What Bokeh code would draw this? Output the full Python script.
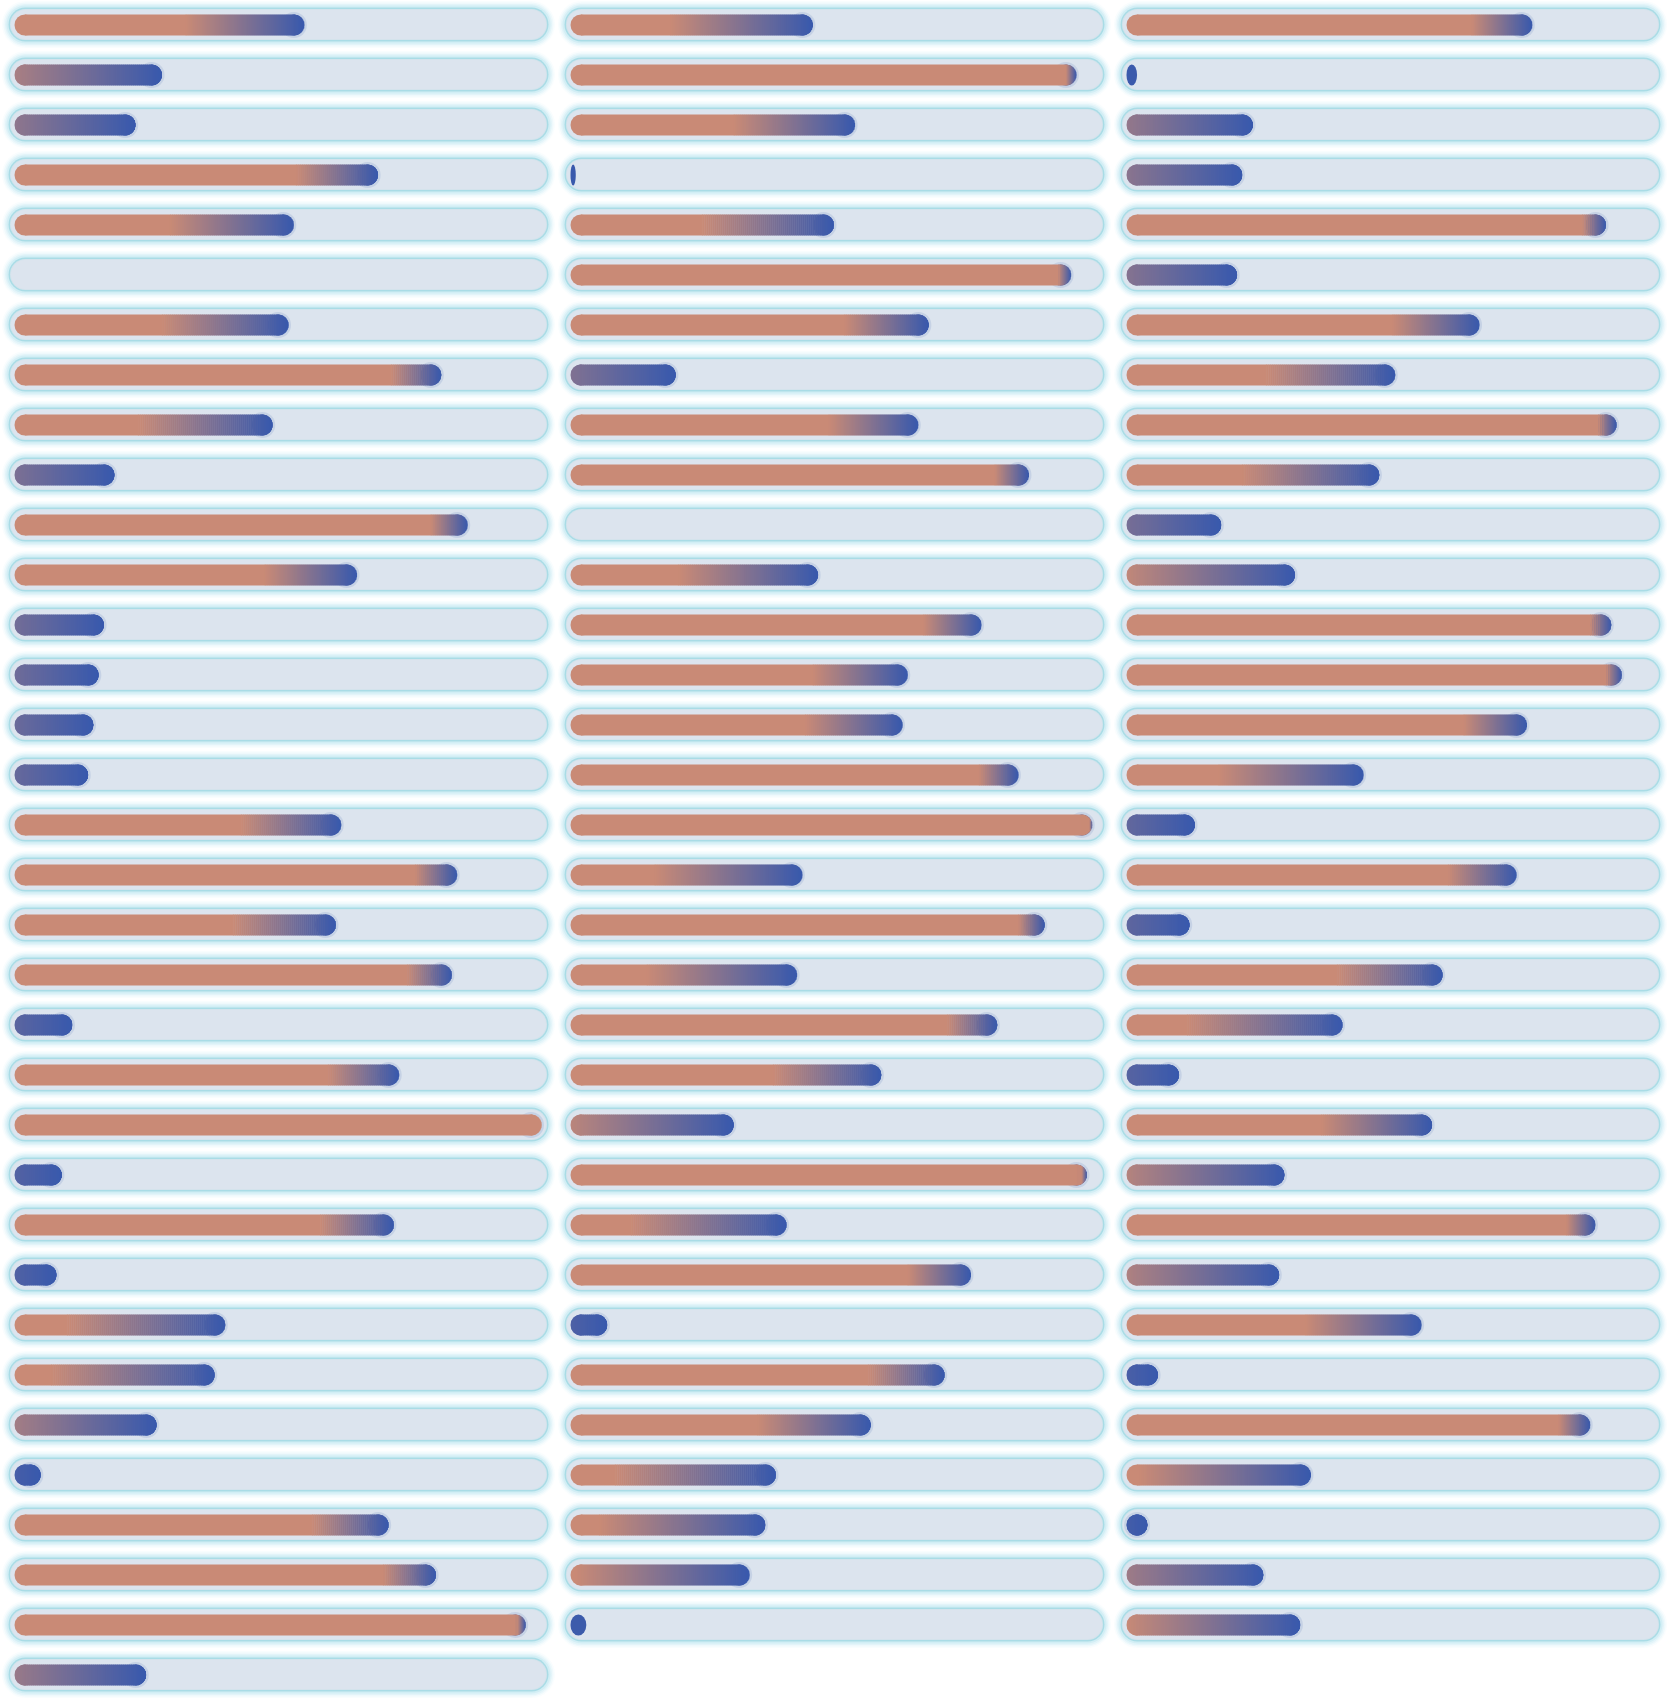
import math
import numpy as np
from bokeh.plotting import figure
from bokeh.models import Range1d, ColumnDataSource
from bokeh.embed import file_html
from bokeh.resources import INLINE

# progress values (percent), one list per grid column, top to bottom
col_a = [55, 28, 23, 69, 53, 0, 52, 81, 49, 19, 86, 65, 17, 16, 15, 14, 62, 84,
         61, 83, 11, 73, 100, 9, 72, 8, 40, 38, 27, 5, 71, 80, 97, 25]
col_b = [46, 96, 54, 1, 50, 95, 68, 20, 66, 87, 0, 47, 78, 64, 63, 85, 99, 44,
         90, 43, 81, 59, 31, 98, 41, 76, 7, 71, 57, 39, 37, 34, 3]
col_c = [77, 2, 24, 22, 91, 21, 67, 51, 93, 48, 18, 32, 92, 94, 76, 45, 13, 74,
         12, 60, 41, 10, 58, 30, 89, 29, 56, 6, 88, 35, 4, 26, 33]

SALMON = np.array([201, 138, 118])
BLUE = np.array([56, 89, 173])
TRACK_FILL = "#dce4ee"
TRACK_BORDER = "#a9dce6"
GLOW = "#93d8e8"

W, H = 1668, 1700
COL_W, ROW_H = 556, 50
TRACK_L, TRACK_R, TRACK_YC, TRACK_H = 8, 548, 24, 34
FILL_X0, FULL, FILL_YC, R = 14, 527, 24.5, 10.5


def mix(t):
    c = (1 - t) * SALMON + t * BLUE
    return "#%02x%02x%02x" % tuple(int(round(x)) for x in c)


p = figure(width=W, height=H, x_range=Range1d(0, W), y_range=Range1d(H, 0),
           output_backend="svg", toolbar_location=None, min_border=0,
           x_axis_type=None, y_axis_type=None)
p.outline_line_color = None
p.background_fill_color = "white"
p.border_fill_color = "white"

# tracks
tx0, tx1, ty = [], [], []
for ci, vals in enumerate([col_a, col_b, col_c]):
    for ri, _ in enumerate(vals):
        hr = TRACK_H / 2
        tx0.append(ci * COL_W + TRACK_L + hr)
        tx1.append(ci * COL_W + TRACK_R - hr)
        ty.append(ri * ROW_H + TRACK_YC)
tsrc = ColumnDataSource(dict(x0=tx0, x1=tx1, y=ty))
for lw, a in [(47, 0.06), (44, 0.09), (41, 0.13), (38, 0.2)]:
    p.segment("x0", "y", "x1", "y", source=tsrc, line_width=lw, line_color=GLOW,
              line_alpha=a, line_cap="round")
p.segment("x0", "y", "x1", "y", source=tsrc, line_width=TRACK_H, line_color=TRACK_BORDER,
          line_cap="round")
p.segment("x0", "y", "x1", "y", source=tsrc, line_width=TRACK_H - 3, line_color="#d4e3ec",
          line_cap="round")
p.segment("x0", "y", "x1", "y", source=tsrc, line_width=TRACK_H - 5, line_color=TRACK_FILL,
          line_cap="round")

# fills
circ = dict(x=[], y=[], c=[])
halo = dict(x=[], y=[])
ell = dict(x=[], y=[], w=[], c=[])
qd = dict(l=[], r=[], t=[], b=[], c=[])

for ci, vals in enumerate([col_a, col_b, col_c]):
    for ri, pct in enumerate(vals):
        v = pct / 100.0
        wf = v * FULL
        if wf <= 0:
            continue
        x0 = ci * COL_W + FILL_X0
        yc = ri * ROW_H + FILL_YC
        xe = x0 + wf
        s = 1.5 * v - 0.5
        g = 0.5 * (1 - v)

        def tcol(x):
            if g <= 0:
                return 0.0
            u = (x - x0) / FULL
            return min(max((u - s) / g, 0.0), 1.0)

        if wf < 2 * R:
            ell["x"].append(x0 + wf / 2); ell["y"].append(yc)
            ell["w"].append(wf); ell["c"].append(mix(tcol(x0 + wf / 2)))
            continue
        halo["x"].append(xe - R); halo["y"].append(yc)
        circ["x"] += [x0 + R, xe - R]
        circ["y"] += [yc, yc]
        circ["c"] += [mix(tcol(x0)), mix(tcol(xe))]
        xs = x0 + s * FULL
        gstart = max(min(xs, xe - R), x0)
        if gstart > x0 + R:
            qd["l"].append(x0 + R); qd["r"].append(gstart + 0.6)
            qd["t"].append(yc - R); qd["b"].append(yc + R)
            qd["c"].append(mix(0.0))
        x = gstart
        while x < xe - 1e-6:
            in_cap = x < x0 + R or x + 2 > xe - R
            step = 1.0 if in_cap else 2.0
            xr = min(x + step, xe)
            dx = 0.0
            if x < x0 + R:
                dx = max(dx, x0 + R - x)
            if xr > xe - R:
                dx = max(dx, xr - (xe - R))
            h = math.sqrt(max(R * R - dx * dx, 0.0))
            if h > 0.2:
                qd["l"].append(x)
                qd["r"].append(min(xr + 0.5, xe))
                qd["t"].append(yc - h); qd["b"].append(yc + h)
                qd["c"].append(mix(tcol((x + xr) / 2)))
            x = xr

p.circle(x="x", y="y", radius=R + 2.5, source=ColumnDataSource(halo),
         fill_color=mix(1.0), fill_alpha=0.13, line_color=None)
p.circle(x="x", y="y", radius=R, source=ColumnDataSource(circ),
         fill_color="c", line_color=None)
p.ellipse(x="x", y="y", width="w", height=2 * R, source=ColumnDataSource(ell),
          fill_color="c", line_color=None)
p.quad(left="l", right="r", top="t", bottom="b", source=ColumnDataSource(qd),
       fill_color="c", line_color=None)

open("out.html", "w").write(file_html(p, INLINE))
